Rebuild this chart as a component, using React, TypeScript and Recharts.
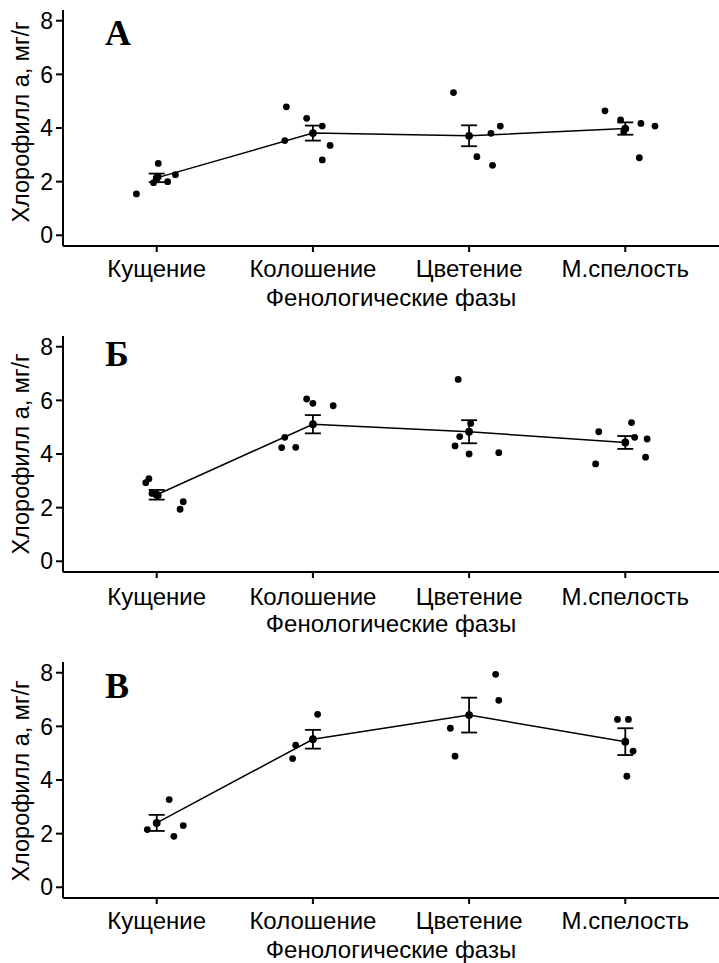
import { ScatterChart, Scatter, XAxis, YAxis, ErrorBar } from 'recharts'

// phenological phases on the x axis
const PHASES = ['Кущение', 'Колошение', 'Цветение', 'М.спелость']
const Y_TICKS = [0, 2, 4, 6, 8]
const X_TITLE = 'Фенологические фазы'
const Y_TITLE = 'Хлорофилл а, мг/г'

// panel А
const A_MEANS = [2.14, 3.81, 3.71, 3.98]
const A_SE = [0.16, 0.28, 0.39, 0.23]
const A_VALUES = [
  [1.54, 2.68, 1.96, 2.0, 2.26, 2.18],
  [4.79, 4.36, 4.07, 3.53, 3.35, 2.81],
  [5.32, 3.8, 4.07, 2.93, 2.61],
  [4.64, 4.3, 4.17, 4.07, 2.89, 3.86],
]
const A_JITTER = [
  [-0.13, 0.01, -0.02, 0.07, 0.12, 0.01],
  [-0.17, -0.04, 0.06, -0.18, 0.11, 0.06],
  [-0.1, 0.14, 0.2, 0.05, 0.15],
  [-0.13, -0.03, 0.1, 0.19, 0.09, -0.01],
]

// panel Б
const B_MEANS = [2.48, 5.11, 4.83, 4.43]
const B_SE = [0.18, 0.34, 0.43, 0.24]
const B_VALUES = [
  [2.93, 3.08, 2.53, 2.22, 1.94, 2.45],
  [6.05, 5.89, 5.8, 4.62, 4.24, 4.25],
  [6.78, 5.14, 4.65, 4.3, 4.0, 4.05],
  [4.83, 3.63, 5.17, 4.62, 4.56, 3.88],
]
const B_JITTER = [
  [-0.07, -0.05, -0.03, 0.17, 0.15, 0.01],
  [-0.04, 0.0, 0.13, -0.18, -0.2, -0.11],
  [-0.07, 0.01, -0.06, -0.09, 0.0, 0.19],
  [-0.17, -0.19, 0.04, 0.06, 0.14, 0.13],
]

// panel В
const C_MEANS = [2.4, 5.52, 6.42, 5.43]
const C_SE = [0.3, 0.35, 0.65, 0.5]
const C_VALUES = [
  [2.15, 3.27, 1.9, 2.3],
  [5.3, 4.8, 6.45],
  [7.94, 6.97, 5.93, 4.89],
  [6.26, 6.26, 5.08, 4.14],
]
const C_JITTER = [
  [-0.06, 0.08, 0.11, 0.17],
  [-0.11, -0.13, 0.03],
  [0.17, 0.19, -0.12, -0.09],
  [-0.05, 0.02, 0.05, 0.01],
]

const FONT = '"Liberation Sans", Arial, sans-serif'
const INK = '#000'
const PLOT_BOTTOM = 246

const PANELS = [
  { letter: 'А', means: A_MEANS, se: A_SE, values: A_VALUES, jitter: A_JITTER, top: 0, height: 320, tickBase: 31, titleBase: 60, yTitleCy: 122, letterBase: 45 },
  { letter: 'Б', means: B_MEANS, se: B_SE, values: B_VALUES, jitter: B_JITTER, top: 326, height: 320, tickBase: 33, titleBase: 60, yTitleCy: 128, letterBase: 40 },
  { letter: 'В', means: C_MEANS, se: C_SE, values: C_VALUES, jitter: C_JITTER, top: 652, height: 311, tickBase: 31, titleBase: 59.5, yTitleCy: 129, letterBase: 45.7 },
]

function PhaseTick(props: any) {
  const { x, payload, base } = props
  return (
    <text x={x} y={PLOT_BOTTOM + base} textAnchor="middle" fontSize={24} fontFamily={FONT} fill={INK}>
      {PHASES[payload.value - 1]}
    </text>
  )
}

function XTitle({ base }: { base: number }) {
  return (
    <text x={391} y={PLOT_BOTTOM + base} textAnchor="middle" fontSize={24} fontFamily={FONT} fill={INK}>
      {X_TITLE}
    </text>
  )
}

function YTitle({ cy }: { cy: number }) {
  return (
    <text
      x={29}
      y={cy}
      transform={`rotate(-90, 29, ${cy})`}
      textAnchor="middle"
      fontSize={23.5}
      fontFamily={FONT}
      fill={INK}
    >
      {Y_TITLE}
    </text>
  )
}

const dot = (r: number) => (p: any) => <circle cx={p.cx} cy={p.cy} r={r} fill={INK} />

function Panel({ p }: { p: (typeof PANELS)[number] }) {
  const points = p.values.flatMap((vals, i) =>
    vals.map((v, k) => ({ x: i + 1 + p.jitter[i][k], y: v }))
  )
  const meanData = p.means.map((m, i) => ({ x: i + 1, y: m, se: p.se[i] }))

  return (
    <div style={{ position: 'absolute', left: 0, top: p.top, width: 719, height: p.height }}>
      <ScatterChart width={719} height={p.height} margin={{ top: 10, right: 0, bottom: 0, left: 0 }}>
        <XAxis
          type="number"
          dataKey="x"
          domain={[0.4, 4.6]}
          ticks={[1, 2, 3, 4]}
          height={p.height - PLOT_BOTTOM}
          axisLine={{ stroke: INK, strokeWidth: 2 }}
          tickLine={{ stroke: INK, strokeWidth: 2 }}
          tickSize={6}
          tick={<PhaseTick base={p.tickBase} />}
          label={<XTitle base={p.titleBase} />}
        />
        <YAxis
          type="number"
          dataKey="y"
          domain={[-0.4, 8.4]}
          ticks={Y_TICKS}
          width={63}
          axisLine={{ stroke: INK, strokeWidth: 2 }}
          tickLine={{ stroke: INK, strokeWidth: 2 }}
          tickSize={7}
          tickMargin={3}
          tick={{ fontSize: 23, fontFamily: FONT, fill: INK }}
          label={<YTitle cy={p.yTitleCy} />}
        />
        <Scatter data={points} shape={dot(3.4)} isAnimationActive={false} />
        <Scatter
          data={meanData}
          shape={dot(3.9)}
          line={{ stroke: INK, strokeWidth: 1.5 }}
          isAnimationActive={false}
        >
          <ErrorBar dataKey="se" direction="y" width={8} stroke={INK} strokeWidth={1.8} isAnimationActive={false} />
        </Scatter>
      </ScatterChart>
      <div
        style={{
          position: 'absolute',
          left: 105,
          top: p.letterBase - 30.2,
          fontFamily: '"Liberation Serif", "Times New Roman", serif',
          fontWeight: 700,
          fontSize: 36,
          lineHeight: 1,
          color: INK,
        }}
      >
        {p.letter}
      </div>
    </div>
  )
}

export default function App() {
  return (
    <div style={{ position: 'absolute', left: 0, top: 0, width: 719, height: 963, background: '#fff' }}>
      {PANELS.map((p) => (
        <Panel key={p.letter} p={p} />
      ))}
    </div>
  )
}
